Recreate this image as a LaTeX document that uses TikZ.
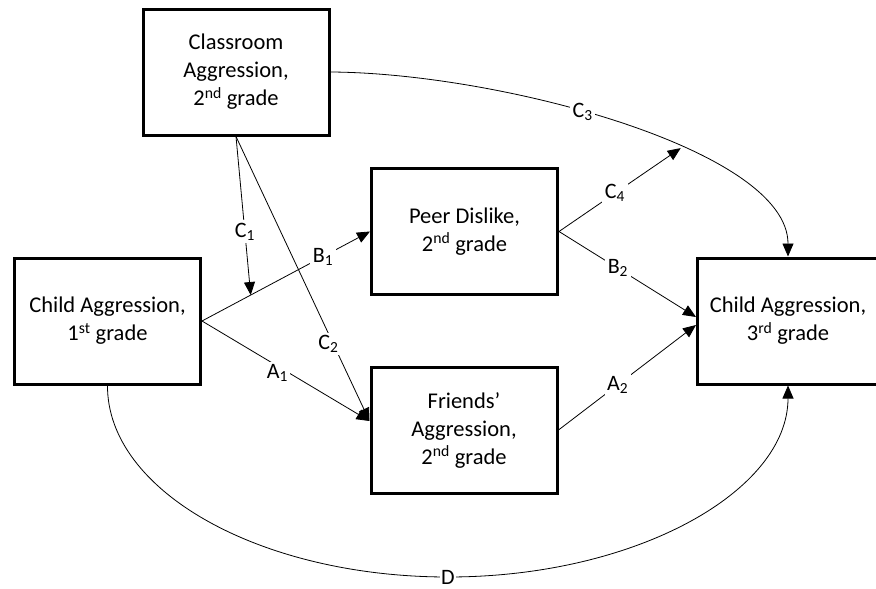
\documentclass[tikz,border=0pt]{standalone}
\usepackage{fontspec}
\setmainfont{Carlito}
\usetikzlibrary{arrows.meta}

\begin{document}
\begin{tikzpicture}[x=1pt,y=-1pt,
	box/.style={draw,line width=3pt,minimum width=186pt,minimum height=126pt,align=center,font=\fontsize{22.5}{28}\selectfont},
	lbl/.style={fill=white,inner sep=2.5pt,font=\fontsize{22}{24}\selectfont},
	arr/.style={line width=0.8pt,-{Triangle[length=13pt,width=11pt]}}]
	\useasboundingbox (0,0) rectangle (876,589);
	\clip (0,0) rectangle (876,589);
	\node (classroom) at (236,72) [box] {Classroom\\Aggression,\\2\textsuperscript{nd} grade};
	\node (child) at (107.5,321) [box] {Child Aggression,\\1\textsuperscript{st} grade};
	\node (peer) at (464.5,231.5) [box] {Peer Dislike,\\2\textsuperscript{nd} grade};
	\node (friends) at (464,430) [box] {Friends’\\Aggression,\\2\textsuperscript{nd} grade};
	\node (third) at (788,321) [box,minimum width=181pt] {Child Aggression,\\3\textsuperscript{rd} grade};
	\draw[arr] (child.east) -- coordinate[pos=0.29] (c1end) node[lbl,pos=0.72] {B\textsubscript{1}} (peer.west);
	\draw[arr] (child.east) -- node[lbl,pos=0.45,yshift=-7pt] {A\textsubscript{1}} ([yshift=9pt]friends.west);
	\draw[arr] (classroom.south) -- node[lbl,pos=0.6] {C\textsubscript{1}} (c1end);
	\draw[arr] (classroom.south) -- node[lbl,pos=0.73,xshift=-5pt] {C\textsubscript{2}} ([yshift=9pt]friends.west);
	\draw[arr] (classroom.east) .. controls (500,73) and (788,150) .. node[lbl,pos=0.43] {C\textsubscript{3}} coordinate[pos=0.61] (c3meet) (third.north);
	\draw[arr] (peer.east) -- node[lbl,pos=0.46] {C\textsubscript{4}} (c3meet);
	\draw[arr] (peer.east) -- node[lbl,pos=0.43] {B\textsubscript{2}} ([yshift=4pt]third.west);
	\draw[arr] (friends.east) -- node[lbl,pos=0.43] {A\textsubscript{2}} ([yshift=-4pt]third.west);
	\draw[arr] (child.south) .. controls (107,491) and (260,577) .. (448,577) node[lbl,inner sep=1.5pt] {D} .. controls (636,577) and (788,491) .. (third.south);
\end{tikzpicture}
\end{document}
